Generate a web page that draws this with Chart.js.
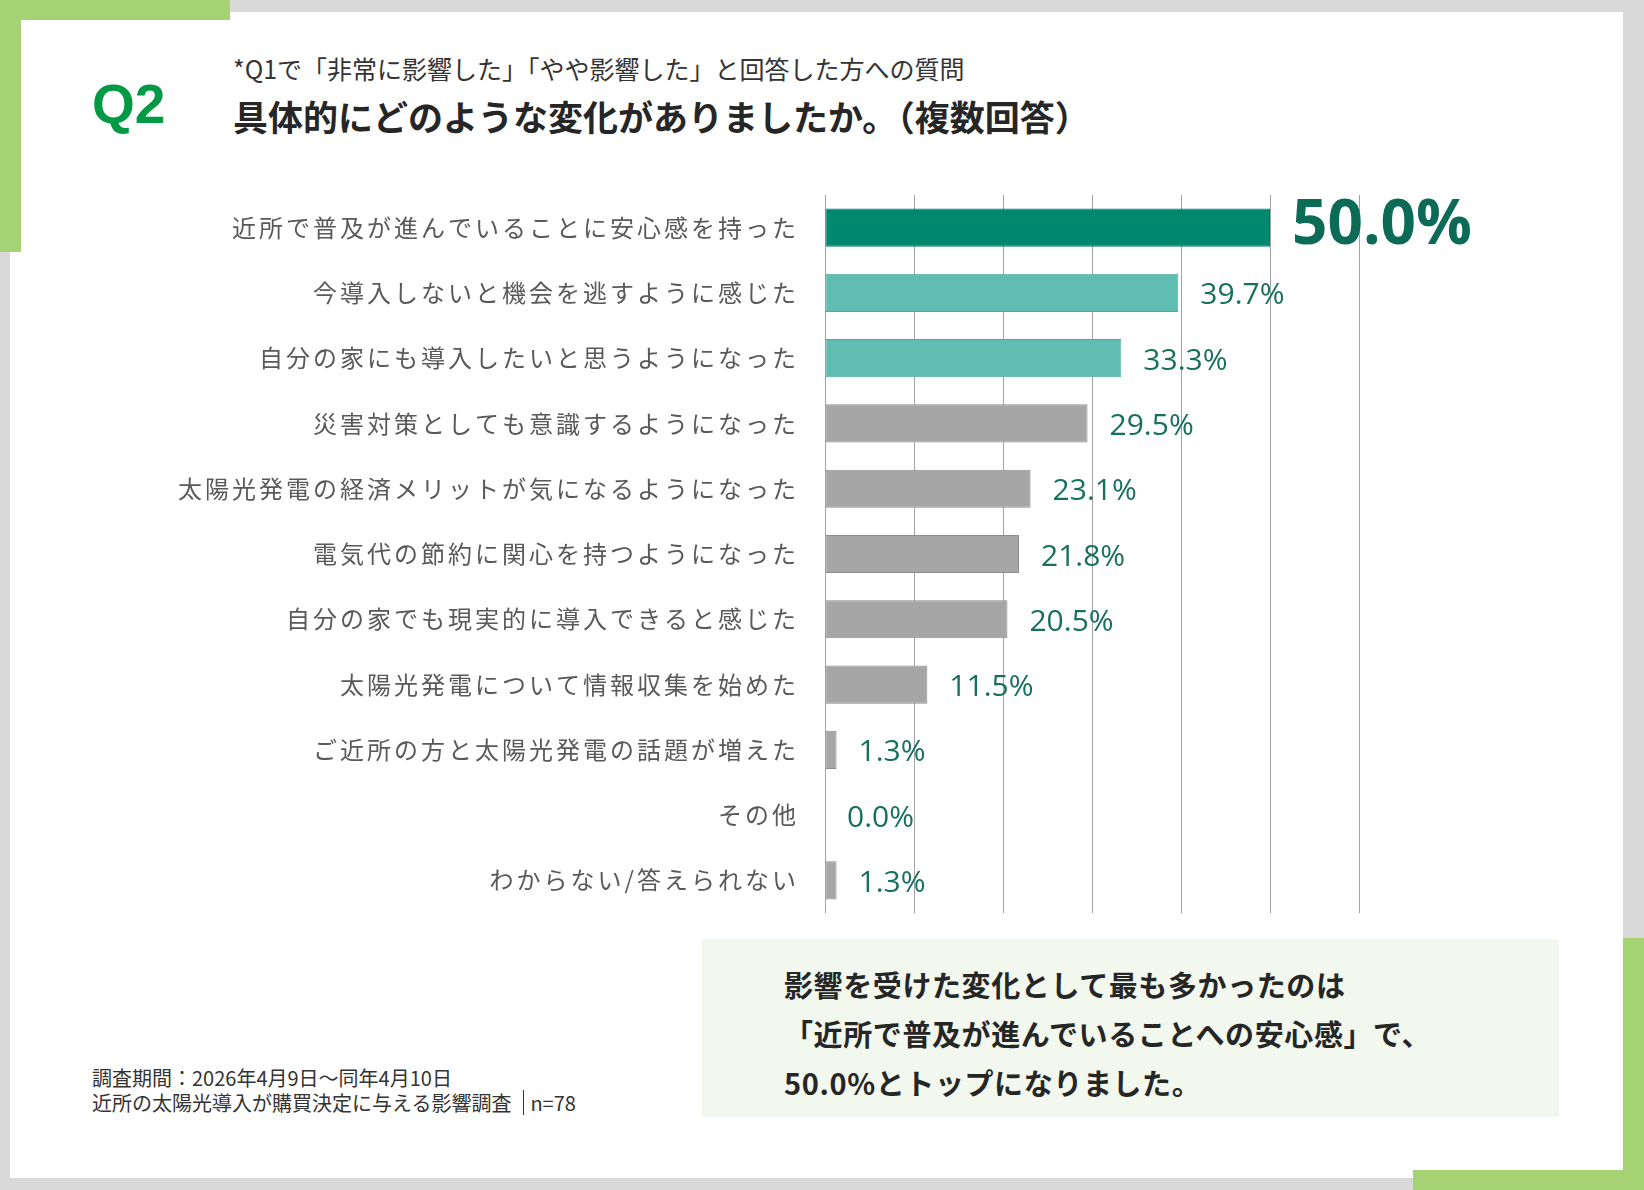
<!DOCTYPE html>
<html lang="ja">
<head>
<meta charset="utf-8">
<title>Q2 具体的な変化</title>
<script src="https://cdn.jsdelivr.net/npm/chart.js@4.4.1/dist/chart.umd.min.js"></script>
<style>
  html, body {
    margin: 0;
    padding: 0;
  }
  body {
    width: 1644px;
    height: 1190px;
    position: relative;
    overflow: hidden;
    background: #d9d9d9;
    font-family: "Noto Sans CJK JP", "Noto Sans", sans-serif;
    color: #262626;
  }
  .abs { position: absolute; }
  #card { left: 10px; top: 12px; width: 1613px; height: 1166px; background: #ffffff; }
  .green { background: #a5d273; }
  #q2 {
    left: 92px; top: 76px;
    font-family: "Liberation Sans", Arial, sans-serif;
    font-weight: bold; font-size: 55px; line-height: 56px;
    color: #009944;
  }
  #sub { left: 233px; top: 53px; font-size: 25px; line-height: 30px; color: #333333; white-space: nowrap; }
  #title { left: 233px; top: 96px; font-size: 35px; line-height: 40px; font-weight: bold; color: #262626; white-space: nowrap; }
  #note {
    left: 702px; top: 939px; width: 857px; height: 178px;
    background: #f3f8ee; box-sizing: border-box;
    padding: 21px 0 0 82px;
    font-size: 29px; line-height: 49px; font-weight: bold;
    letter-spacing: 0.6px; color: #262626; white-space: nowrap;
  }
  #foot { left: 92px; top: 1065px; font-size: 20px; line-height: 25px; color: #333333; white-space: nowrap; }
  #foot .bar { display: inline-block; border-left: 1.5px solid #333; height: 25px; vertical-align: top; margin: 0 6px 0 12px; }
  #chart { position: absolute; left: 0; top: 0; pointer-events: none; }
</style>
</head>
<body>
<div id="card" class="abs"></div>
<div class="abs green" style="left:0;top:0;width:230px;height:20px;"></div>
<div class="abs green" style="left:0;top:0;width:21px;height:252px;"></div>
<div class="abs green" style="left:1623px;top:938px;width:21px;height:252px;"></div>
<div class="abs green" style="left:1413px;top:1170px;width:231px;height:20px;"></div>

<div id="q2" class="abs">Q2</div>
<div id="sub" class="abs">*Q1で「非常に影響した」「やや影響した」と回答した方への質問</div>
<div id="title" class="abs">具体的にどのような変化がありましたか。（複数回答）</div>

<div id="note" class="abs">影響を受けた変化として最も多かったのは<br>「近所で普及が進んでいることへの安心感」で、<br>50.0%とトップになりました。</div>

<div id="foot" class="abs">調査期間：2026年4月9日～同年4月10日<br>近所の太陽光導入が購買決定に与える影響調査<span class="bar"></span>n=78</div>

<canvas id="chart" width="1644" height="1190"></canvas>

<script>
const categories = [
  "近所で普及が進んでいることに安心感を持った",
  "今導入しないと機会を逃すように感じた",
  "自分の家にも導入したいと思うようになった",
  "災害対策としても意識するようになった",
  "太陽光発電の経済メリットが気になるようになった",
  "電気代の節約に関心を持つようになった",
  "自分の家でも現実的に導入できると感じた",
  "太陽光発電について情報収集を始めた",
  "ご近所の方と太陽光発電の話題が増えた",
  "その他",
  "わからない/答えられない",
];
const values = [50.0, 39.7, 33.3, 29.5, 23.1, 21.8, 20.5, 11.5, 1.3, 0.0, 1.3];
const xTicks = [0, 10, 20, 30, 40, 50, 60];

const barColors = ["#00896f", "#5fbdb2", "#5fbdb2", "#a6a6a6", "#a6a6a6", "#a6a6a6",
  "#a6a6a6", "#a6a6a6", "#a6a6a6", "#a6a6a6", "#a6a6a6"];
const barBorders = ["#007a63", "#52a89e", "#52a89e", "#8c8c8c", "#8c8c8c", "#8c8c8c",
  "#8c8c8c", "#8c8c8c", "#8c8c8c", "#8c8c8c", "#8c8c8c"];

// spaced-out tick labels like the source deck
const labelSpacing = {
  id: "labelSpacing",
  beforeDraw(chart) {
    chart.ctx.letterSpacing = "3px";
  },
  beforeDatasetsDraw(chart) {
    chart.ctx.letterSpacing = "0px";
  },
};

// value labels at the end of each bar
const valueLabels = {
  id: "valueLabels",
  afterDatasetsDraw(chart) {
    const ctx = chart.ctx;
    const meta = chart.getDatasetMeta(0);
    ctx.save();
    ctx.letterSpacing = "0px";
    ctx.textAlign = "left";
    ctx.textBaseline = "middle";
    meta.data.forEach((bar, i) => {
      const text = values[i].toFixed(1) + "%";
      if (i === 0) {
        ctx.font = "bold 62px 'Open Sans', 'Noto Sans', sans-serif";
        ctx.fillStyle = "#0c6b57";
        ctx.fillText(text, bar.x + 22, bar.y - 1);
      } else {
        ctx.font = "30px 'Open Sans', 'Noto Sans', sans-serif";
        ctx.fillStyle = "#17705e";
        ctx.fillText(text, bar.x + 22, bar.y + 3);
      }
    });
    ctx.restore();
  },
};

new Chart(document.getElementById("chart").getContext("2d"), {
  type: "bar",
  data: {
    labels: categories,
    datasets: [
      {
        data: values,
        backgroundColor: barColors,
        borderColor: barBorders,
        borderWidth: 1,
        borderSkipped: false,
        categoryPercentage: 1,
        barPercentage: 0.585,
      },
    ],
  },
  options: {
    indexAxis: "y",
    responsive: false,
    animation: false,
    devicePixelRatio: 1,
    layout: {
      padding: { left: 0, right: 285, top: 195, bottom: 277 },
    },
    plugins: {
      legend: { display: false },
      tooltip: { enabled: false },
    },
    scales: {
      x: {
        min: xTicks[0],
        max: xTicks[xTicks.length - 1],
        afterBuildTicks(scale) {
          scale.ticks = xTicks.map((v) => ({ value: v }));
        },
        afterFit(scale) {
          scale.height = 0;
        },
        grid: { color: "#a3a3a3", lineWidth: 1, drawTicks: false },
        border: { display: false },
        ticks: { display: false },
      },
      y: {
        afterFit(scale) {
          scale.width = 825;
        },
        grid: { display: false, drawTicks: false },
        border: { display: false },
        ticks: {
          padding: 26,
          color: "#595959",
          font: { family: "'Noto Sans CJK JP', sans-serif", size: 24 },
        },
      },
    },
  },
  plugins: [labelSpacing, valueLabels],
});
</script>
</body>
</html>
